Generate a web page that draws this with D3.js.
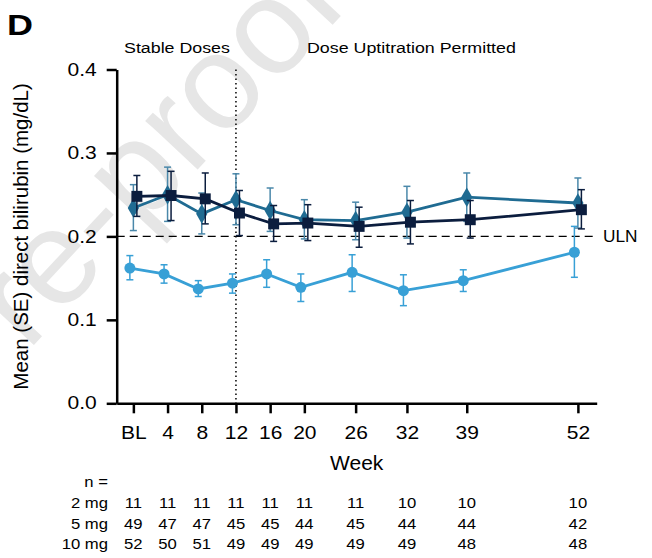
<!DOCTYPE html>
<html>
<head>
<meta charset="utf-8">
<script src="https://cdn.jsdelivr.net/npm/d3@7"></script>
<style>
  body { margin: 0; background: #fff; }
  svg text { font-family: "Liberation Sans", Arial, Helvetica, sans-serif; }
</style>
</head>
<body>
<div id="chart"></div>
<script>
// Weeks and their tick labels
const weeks = [0, 4, 8, 12, 16, 20, 26, 32, 39, 52];
const weekLabels = ["BL", "4", "8", "12", "16", "20", "26", "32", "39", "52"];
const yTicks = [0.0, 0.1, 0.2, 0.3, 0.4];

// Light blue circles
const circleMean  = [0.162, 0.155, 0.137, 0.144, 0.155, 0.139, 0.157, 0.135, 0.147, 0.181];
const circleUpper = [0.177, 0.166, 0.147, 0.155, 0.172, 0.155, 0.178, 0.154, 0.160, 0.212];
const circleLower = [0.148, 0.144, 0.128, 0.132, 0.139, 0.122, 0.134, 0.117, 0.134, 0.151];

// Teal diamonds
const diamondMean  = [0.234, 0.250, 0.227, 0.244, 0.231, 0.220, 0.219, 0.229, 0.247, 0.240];
const diamondUpper = [0.262, 0.283, 0.252, 0.275, 0.258, 0.244, 0.241, 0.260, 0.276, 0.270];
const diamondLower = [0.207, 0.218, 0.203, 0.214, 0.206, 0.197, 0.196, 0.198, 0.218, 0.210];

// Navy squares
const squareMean  = [0.248, 0.249, 0.245, 0.228, 0.215, 0.216, 0.212, 0.217, 0.220, 0.232];
const squareUpper = [0.273, 0.278, 0.276, 0.255, 0.237, 0.238, 0.235, 0.243, 0.243, 0.256];
const squareLower = [0.224, 0.219, 0.215, 0.201, 0.194, 0.195, 0.187, 0.191, 0.198, 0.209];

// Patients at each visit
const nRowLabels = ["2 mg", "5 mg", "10 mg"];
const n2mg  = [11, 11, 11, 11, 11, 11, 11, 10, 10, 10];
const n5mg  = [49, 47, 47, 45, 45, 44, 45, 44, 44, 42];
const n10mg = [52, 50, 51, 49, 49, 49, 49, 49, 48, 48];

const uln = 0.2;
const phaseSplit = 12;

const W = 652, H = 558;
const svg = d3.select("#chart").append("svg")
  .attr("width", W)
  .attr("height", H);

// Scales
const x = d3.scaleLinear().domain([-1.95, 54.2]).range([116.7, 596.7]);
const y = d3.scaleLinear().domain([0, 0.4]).range([403.3, 69.5]);

// text placed at (px, py) and widened a little, the source font runs wide
function label(px, py, str, size, sx, anchor) {
  return svg.append("text")
    .attr("transform", `translate(${px},${py}) scale(${sx},1)`)
    .attr("text-anchor", anchor || "start")
    .style("font-size", size + "px")
    .text(str);
}

// Watermark
svg.append("text")
  .attr("transform", "translate(350,6) rotate(-47)")
  .attr("text-anchor", "end")
  .style("font-size", "135px")
  .attr("fill", "#e6e6e6")
  .text("Journal Pre-proof");

// Panel letter
label(7, 35, "D", 30, 1.2).style("font-weight", "bold");

// Phase labels
label(124, 52.5, "Stable Doses", 15.5, 1.15);
label(307, 52.5, "Dose Uptitration Permitted", 15.5, 1.15);

// Y axis
const yAxis = svg.append("g")
  .attr("transform", `translate(${x.range()[0]},0)`)
  .call(d3.axisLeft(y)
    .tickValues(yTicks)
    .tickFormat(d3.format(".1f"))
    .tickSize(10)
    .tickSizeOuter(0));
yAxis.select(".domain").attr("stroke-width", 2.5);
yAxis.selectAll(".tick line").attr("stroke-width", 2.5);
yAxis.selectAll(".tick text")
  .attr("x", -20 / 1.2)
  .attr("transform", "scale(1.2,1)")
  .style("font-size", "17.5px")
  .attr("fill", "#000");

// X axis
const xAxis = svg.append("g")
  .attr("transform", `translate(0,${y(0)})`)
  .call(d3.axisBottom(x)
    .tickValues(weeks)
    .tickFormat((d, i) => weekLabels[i])
    .tickSize(10)
    .tickPadding(13)
    .tickSizeOuter(0));
xAxis.select(".domain").attr("stroke-width", 2.5);
xAxis.selectAll(".tick line").attr("stroke-width", 2.5);
xAxis.selectAll(".tick text")
  .attr("transform", "scale(1.2,1)")
  .style("font-size", "17.5px")
  .attr("fill", "#000");

// Axis titles
label((x.range()[0] + x.range()[1]) / 2, 470, "Week", 20, 1.05, "middle");

svg.append("text")
  .attr("transform", `translate(28,${(y(0) + y(0.4)) / 2}) rotate(-90)`)
  .attr("text-anchor", "middle")
  .style("font-size", "20.5px")
  .text("Mean (SE) direct bilirubin (mg/dL)");

// Phase divider and ULN reference
svg.append("line")
  .attr("x1", x(phaseSplit)).attr("x2", x(phaseSplit))
  .attr("y1", y(0.4)).attr("y2", y(0))
  .attr("stroke", "#000")
  .attr("stroke-width", 1.5)
  .attr("stroke-dasharray", "1.5,3");

svg.append("line")
  .attr("x1", x.range()[0]).attr("x2", x.range()[1])
  .attr("y1", y(uln)).attr("y2", y(uln))
  .attr("stroke", "#000")
  .attr("stroke-width", 1.3)
  .attr("stroke-dasharray", "8,5");

label(603, y(uln) + 6, "ULN", 16, 1.08);

// Series
const series = [
  { mean: circleMean, upper: circleUpper, lower: circleLower, color: "#38a0d6", bar: "#38a0d6", shape: d3.symbolCircle, size: 95, dx: -3.5 },
  { mean: diamondMean, upper: diamondUpper, lower: diamondLower, color: "#1f6b92", bar: "#4a88aa", shape: d3.symbolDiamond, size: 110, dx: 0 },
  { mean: squareMean, upper: squareUpper, lower: squareLower, color: "#0b1d3e", bar: "#0b1d3e", shape: d3.symbolSquare, size: 120, dx: 3.5 }
];

const line = d3.line()
  .x(d => d.px)
  .y(d => y(d.v));

series.forEach(s => {
  const pts = weeks.map((w, i) => ({
    px: x(w) + s.dx, v: s.mean[i], hi: s.upper[i], lo: s.lower[i]
  }));
  const g = svg.append("g");

  // error bars
  g.selectAll(".err")
    .data(pts)
    .join("line")
    .attr("x1", d => d.px).attr("x2", d => d.px)
    .attr("y1", d => y(d.hi)).attr("y2", d => y(d.lo))
    .attr("stroke", s.bar)
    .attr("stroke-width", 1.5);
  g.selectAll(".capHi")
    .data(pts)
    .join("line")
    .attr("x1", d => d.px - 3.5).attr("x2", d => d.px + 3.5)
    .attr("y1", d => y(d.hi)).attr("y2", d => y(d.hi))
    .attr("stroke", s.bar)
    .attr("stroke-width", 1.5);
  g.selectAll(".capLo")
    .data(pts)
    .join("line")
    .attr("x1", d => d.px - 3.5).attr("x2", d => d.px + 3.5)
    .attr("y1", d => y(d.lo)).attr("y2", d => y(d.lo))
    .attr("stroke", s.bar)
    .attr("stroke-width", 1.5);

  g.append("path")
    .datum(pts)
    .attr("fill", "none")
    .attr("stroke", s.color)
    .attr("stroke-width", 2.8)
    .attr("d", line);

  g.selectAll(".mark")
    .data(pts)
    .join("path")
    .attr("transform", d => `translate(${d.px},${y(d.v)})`)
    .attr("d", d3.symbol().type(s.shape).size(s.size))
    .attr("fill", s.color);
});

// n table
label(108, 487, "n =", 14.5, 1.15, "end");

const rowY = [508, 528.5, 549];
[n2mg, n5mg, n10mg].forEach((row, r) => {
  label(108, rowY[r], nRowLabels[r], 14.5, 1.15, "end");
  row.forEach((d, i) => label(x(weeks[i]), rowY[r], d, 14.5, 1.15, "middle"));
});
</script>
</body>
</html>
